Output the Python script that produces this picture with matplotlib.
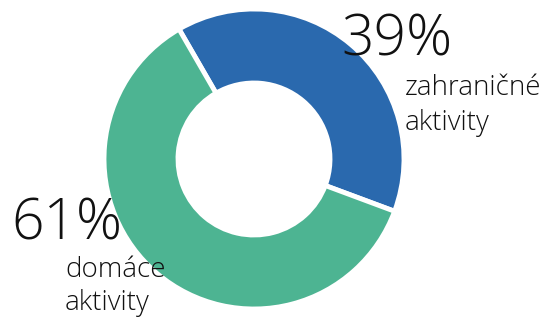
import matplotlib
matplotlib.use("Agg")
import matplotlib.pyplot as plt

labels = [["zahraničné", "aktivity"], ["domáce", "aktivity"]]
shares = [39, 61]
colors = ["#2a69ae", "#4db492"]

plt.rcParams['font.family'] = ['Open Sans', 'DejaVu Sans']

fig = plt.figure(figsize=(5.5, 3.19), dpi=100)
ax = fig.add_axes([0, 0, 1, 1])

ax.pie(shares, colors=colors, startangle=120, counterclock=False,
       center=(254, 160), radius=150,
       wedgeprops=dict(width=74, edgecolor='white', linewidth=3.5))
ax.set_xlim(0, 550)
ax.set_ylim(0, 319)
ax.set_aspect('equal')
ax.axis('off')

txt = dict(color='#111111', fontweight='light', ha='left', va='baseline')

# big percentages
ax.text(341, 264, f"{shares[0]}%", fontsize=41, **txt)
ax.text(11, 79, f"{shares[1]}%", fontsize=41, **txt)

# category labels, one line at a time
ax.text(405, 224, labels[0][0], fontsize=20, **txt)
ax.text(405, 189, labels[0][1], fontsize=20, **txt)
ax.text(65, 42, labels[1][0], fontsize=20, **txt)
ax.text(65, 9, labels[1][1], fontsize=20, **txt)

fig.savefig("out.png", dpi=100)
